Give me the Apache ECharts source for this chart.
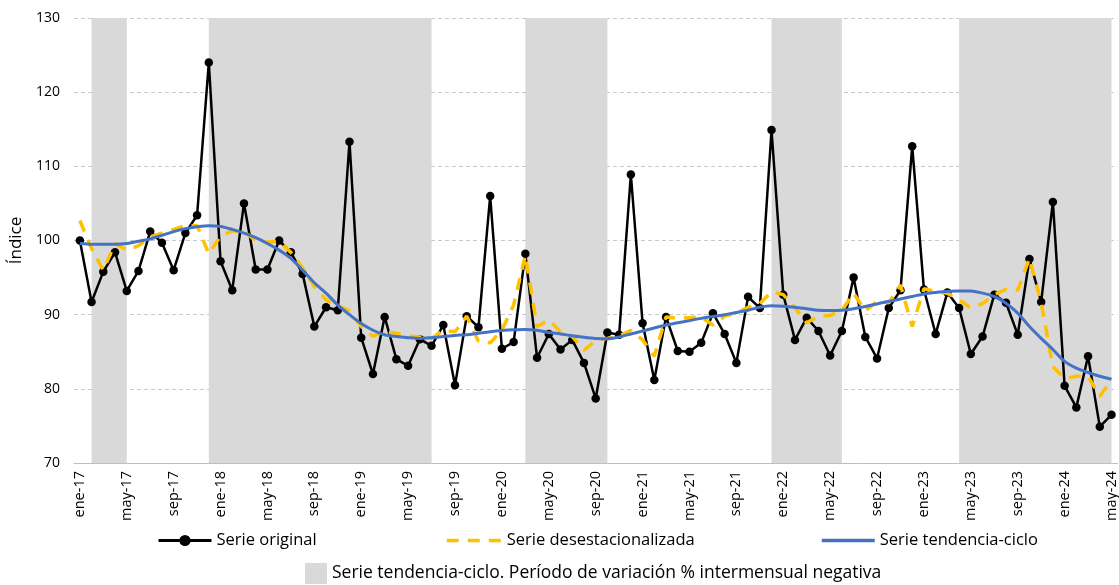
<!DOCTYPE html>
<html>
<head>
<meta charset="utf-8">
<title>Índice - serie original, desestacionalizada y tendencia-ciclo</title>
<script src="https://cdn.jsdelivr.net/npm/echarts@6/dist/echarts.min.js"></script>
<style>
  html, body { margin: 0; padding: 0; background: #fff; }
  #chart { width: 1119px; height: 585px; }
</style>
</head>
<body>
<div id="chart"></div>
<script>
// meses ene-17 ... may-24
const meses = ["ene", "feb", "mar", "abr", "may", "jun", "jul", "ago", "sep", "oct", "nov", "dic"];
const anios = ["17", "18", "19", "20", "21", "22", "23", "24"];
const totalMeses = 89;

// Serie original
const serieOriginal = [
  100.0, 91.7, 95.8, 98.4, 93.2, 95.9, 101.2, 99.7, 96.0, 101.0, 103.4, 124.0,
  97.2, 93.3, 105.0, 96.1, 96.1, 100.0, 98.4, 95.5, 88.4, 91.0, 90.6, 113.3,
  86.9, 82.0, 89.7, 84.0, 83.1, 86.7, 85.8, 88.6, 80.5, 89.8, 88.3, 106.0,
  85.4, 86.3, 98.2, 84.2, 87.4, 85.3, 86.6, 83.5, 78.7, 87.6, 87.3, 108.9,
  88.85, 81.2, 89.7, 85.1, 85.0, 86.2, 90.2, 87.4, 83.5, 92.4, 90.9, 114.9,
  92.7, 86.6, 89.6, 87.8, 84.5, 87.8, 95.0, 87.0, 84.1, 90.9, 93.3, 112.7,
  93.4, 87.4, 93.0, 90.9, 84.7, 87.05, 92.7, 91.6, 87.3, 97.5, 91.7, 105.2,
  80.4, 77.5, 84.4, 74.9, 76.5
];

// Serie desestacionalizada
const serieDesest = [
  102.7, 98.9, 96.0, 99.6, 98.7, 99.3, 100.5, 101.0, 101.5, 102.0, 102.0, 98.2,
  100.6, 101.3, 101.2, 100.0, 99.8, 99.9, 98.4, 96.3, 93.8, 92.0, 91.2, 90.5,
  88.4, 87.1, 87.7, 87.5, 87.1, 87.0, 86.8, 87.9, 87.7, 89.8, 86.4, 86.2,
  87.9, 91.3, 98.0, 88.4, 89.3, 87.7, 87.05, 85.2, 86.5, 86.8, 87.1, 87.9,
  86.6, 84.4, 89.7, 89.5, 89.6, 89.7, 88.6, 89.8, 90.2, 91.0, 91.5, 93.1,
  92.7, 90.9, 88.9, 89.8, 89.9, 90.6, 92.9, 90.5, 91.8, 91.6, 94.0, 88.4,
  93.5, 93.1, 92.9, 92.0, 90.9, 91.5, 92.7, 93.4, 93.3, 97.6, 91.6, 83.0,
  81.4, 81.7, 81.7, 79.0, 81.2
];

// Serie tendencia-ciclo
const serieTendencia = [
  99.6, 99.5, 99.5, 99.5, 99.6, 99.9, 100.2, 100.7, 101.2, 101.6, 101.85, 102.0,
  101.9, 101.5, 101.0, 100.4, 99.6, 98.7, 97.6, 96.0, 94.3, 92.9, 91.3, 90.0,
  88.8, 87.9, 87.3, 87.05, 86.9, 86.8, 86.9, 87.05, 87.2, 87.3, 87.5, 87.7,
  87.85, 87.95, 88.0, 87.9, 87.6, 87.4, 87.15, 86.95, 86.8, 86.75, 87.0, 87.4,
  87.8, 88.2, 88.6, 88.9, 89.2, 89.5, 89.75, 90.0, 90.3, 90.6, 91.0, 91.2,
  91.15, 91.0, 90.8, 90.6, 90.55, 90.6, 90.8, 91.1, 91.45, 91.8, 92.1, 92.45,
  92.8, 93.0, 93.15, 93.2, 93.2, 92.9, 92.45, 91.55, 90.2, 88.4, 86.8, 85.3,
  83.7, 82.8, 82.2, 81.7, 81.3
];

// Periodos con variacion % intermensual negativa de la tendencia-ciclo
const periodosNegativos = [
  ["feb-17", "may-17"],
  ["dic-17", "jul-19"],
  ["mar-20", "oct-20"],
  ["dic-21", "jun-22"],
  ["abr-23", "may-24"]
];

// etiquetas del eje x
const categorias = [];
for (let i = 0; i < totalMeses; i++) {
  categorias.push(meses[i % 12] + "-" + anios[Math.floor(i / 12)]);
}

const fuente = "'Open Sans', Lato, sans-serif";
const nombreSombra = "Serie tendencia-ciclo. Período de variación % intermensual negativa";

const chart = echarts.init(document.getElementById("chart"), null, { renderer: "canvas" });

const option = {
  animation: false,
  backgroundColor: "#ffffff",
  textStyle: { fontFamily: fuente, color: "#000" },
  grid: { left: 74, right: 0, top: 18, bottom: 122 },
  legend: [
    {
      data: ["Serie original"],
      left: 157, top: 532, padding: 0,
      itemWidth: 53, itemHeight: 14, itemGap: 0,
      lineStyle: { width: 3 },
      textStyle: { fontFamily: fuente, fontSize: 16.5, color: "#000" }
    },
    {
      // solo la linea, sin simbolo
      data: [{ name: "Serie desestacionalizada", itemStyle: { opacity: 0 } }],
      left: 445, top: 532, padding: 0,
      itemWidth: 55, itemHeight: 14,
      lineStyle: { width: 3.5 },
      textStyle: { fontFamily: fuente, fontSize: 16.5, color: "#000" }
    },
    {
      data: [{ name: "Serie tendencia-ciclo", itemStyle: { opacity: 0 } }],
      left: 820, top: 532, padding: 0,
      itemWidth: 53, itemHeight: 14,
      lineStyle: { width: 3.5 },
      textStyle: { fontFamily: fuente, fontSize: 16.5, color: "#000" }
    },
    {
      data: [{ name: nombreSombra, icon: "rect" }],
      left: 305, top: 563, padding: 0,
      itemWidth: 22, itemHeight: 21,
      textStyle: { fontFamily: fuente, fontSize: 17.5, color: "#000" }
    }
  ],
  xAxis: {
    type: "category",
    data: categorias,
    boundaryGap: true,
    axisLine: { lineStyle: { color: "#bfbfbf", width: 1 } },
    axisTick: { interval: 3, length: 5, lineStyle: { color: "#bfbfbf" } },
    axisLabel: {
      interval: 3, rotate: 90, margin: 8,
      fontFamily: fuente, fontSize: 14.5, color: "#000"
    }
  },
  yAxis: {
    type: "value",
    min: 70, max: 130, interval: 10,
    name: "Índice",
    nameLocation: "middle",
    nameGap: 46,
    nameTextStyle: { fontFamily: fuente, fontSize: 17, color: "#000" },
    axisLine: { show: false },
    axisTick: { show: false },
    axisLabel: { margin: 14, fontFamily: fuente, fontSize: 14, color: "#000" },
    splitLine: { lineStyle: { color: "#c8c8c8", type: [4, 3], width: 1 } }
  },
  series: [
    {
      // serie vacia, solo para las franjas grises y su leyenda
      name: nombreSombra,
      type: "line",
      data: [],
      z: 1,
      color: "#d9d9d9",
      itemStyle: { color: "#d9d9d9" },
      markArea: {
        silent: true,
        itemStyle: { color: "#d9d9d9" },
        data: periodosNegativos.map(function (p) {
          return [{ xAxis: p[0] }, { xAxis: p[1] }];
        })
      }
    },
    {
      name: "Serie original",
      type: "line",
      data: serieOriginal,
      z: 3,
      symbol: "circle",
      symbolSize: 8.5,
      showAllSymbol: true,
      color: "#000",
      itemStyle: { color: "#000" },
      lineStyle: { color: "#000", width: 2.5 }
    },
    {
      name: "Serie desestacionalizada",
      type: "line",
      data: serieDesest,
      z: 4,
      symbol: "none",
      color: "#ffc000",
      lineStyle: { color: "#ffc000", width: 3.5, type: [12, 9] }
    },
    {
      name: "Serie tendencia-ciclo",
      type: "line",
      data: serieTendencia,
      z: 5,
      symbol: "none",
      smooth: 0.3,
      color: "#4472c4",
      lineStyle: { color: "#4472c4", width: 3 }
    }
  ]
};

chart.setOption(option);
</script>
</body>
</html>
